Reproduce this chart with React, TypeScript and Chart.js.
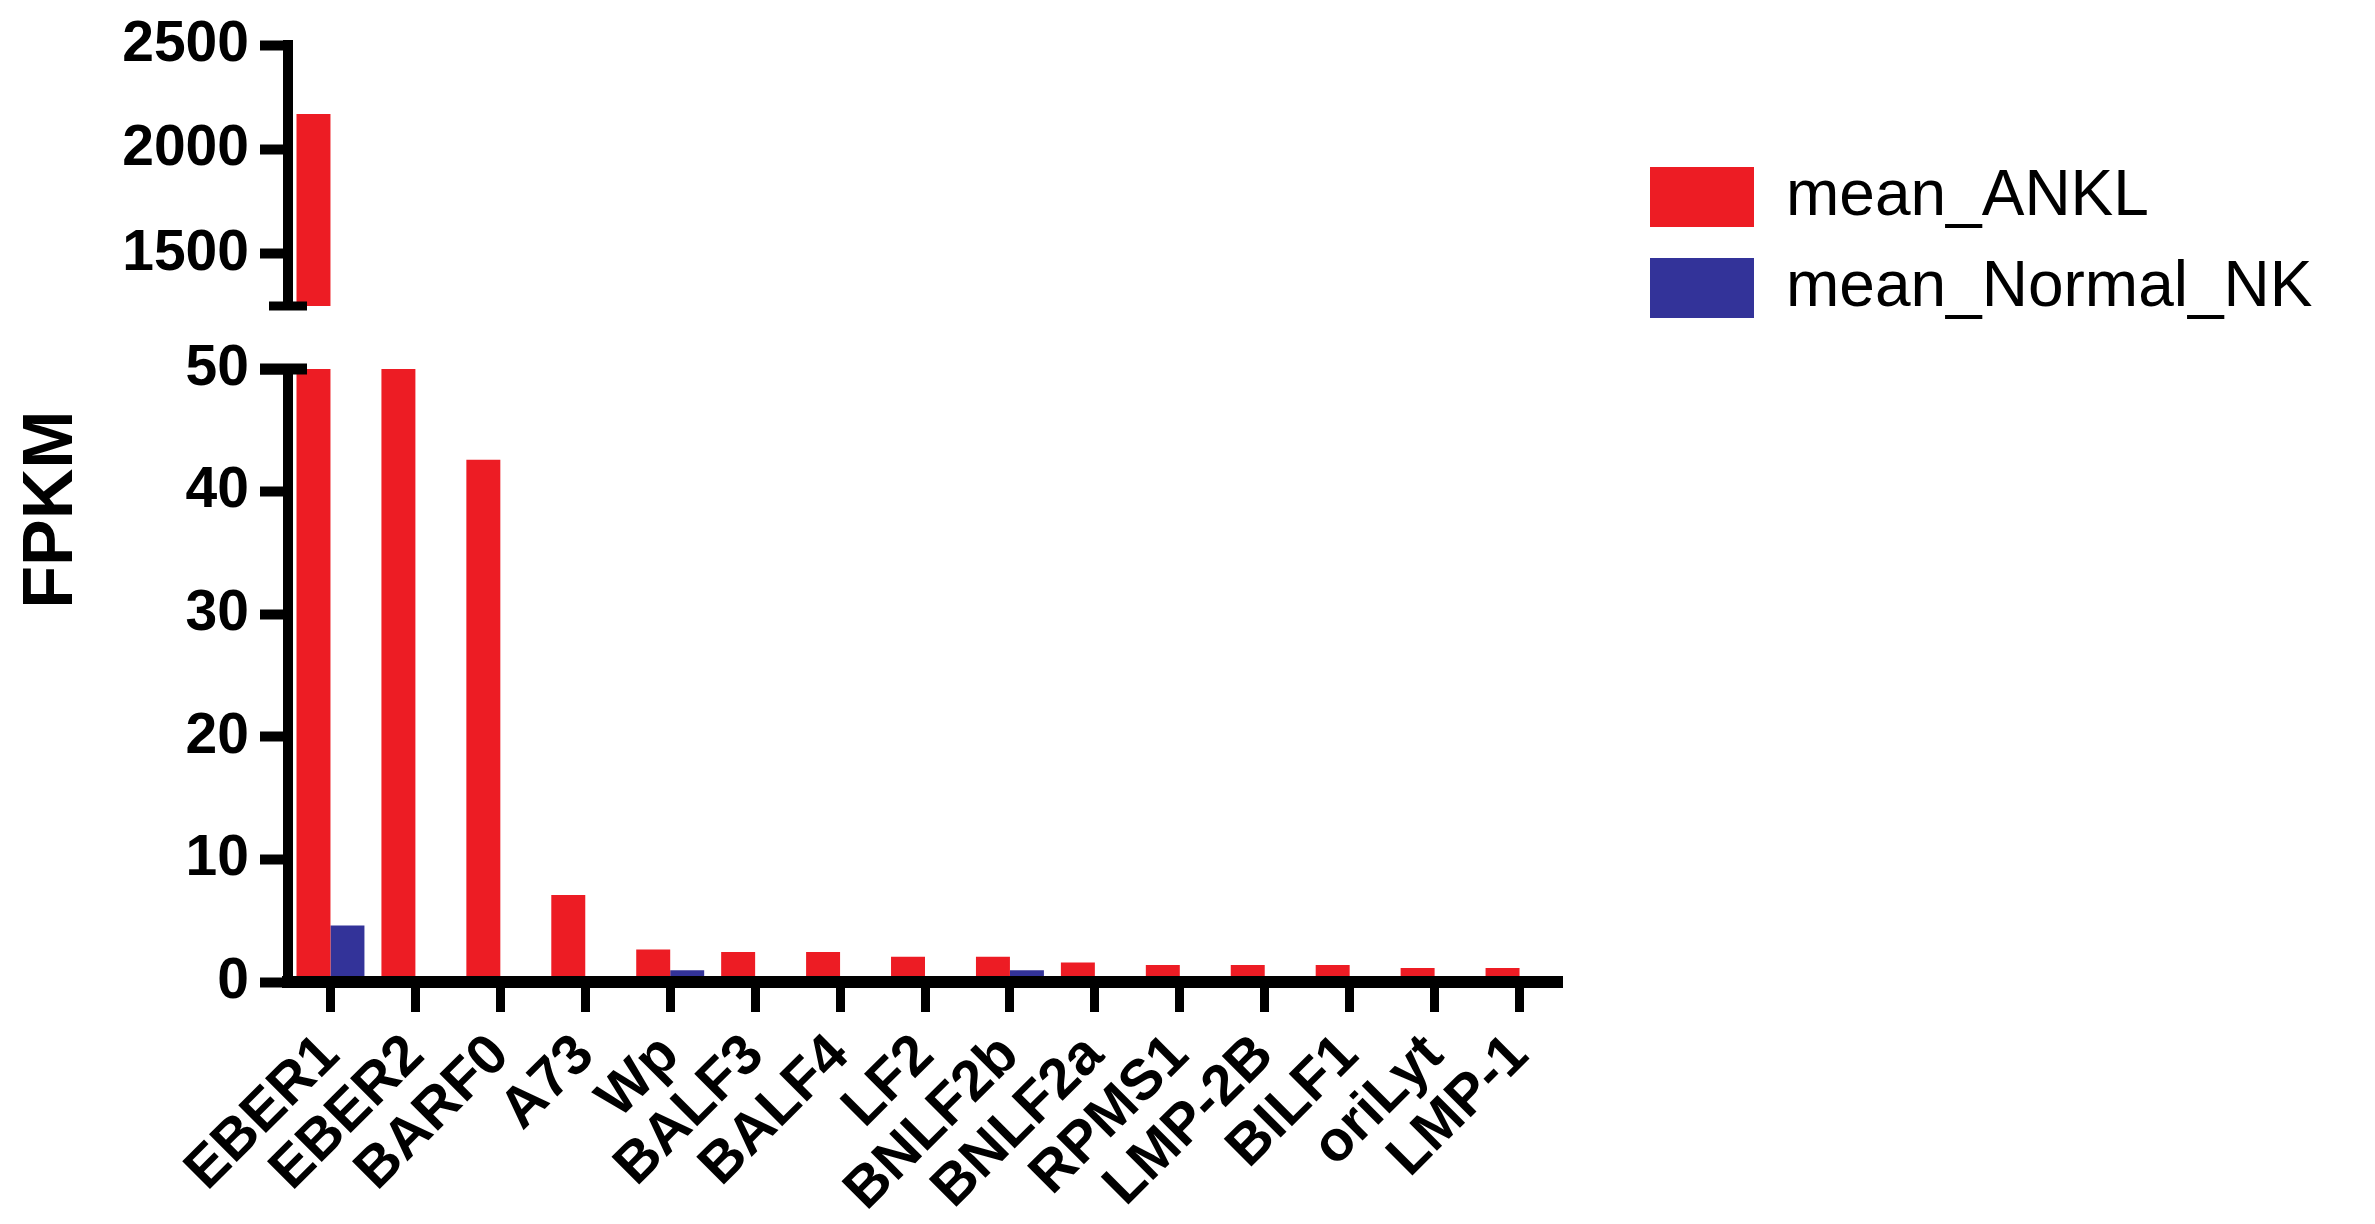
import React, { useEffect, useRef } from 'react';
import { Chart, registerables } from 'chart.js';

Chart.register(...registerables);

// ---------------- data ----------------
const categories = ['EBER1', 'EBER2', 'BARF0', 'A73', 'Wp', 'BALF3', 'BALF4', 'LF2', 'BNLF2b', 'BNLF2a', 'RPMS1', 'LMP-2B', 'BILF1', 'oriLyt', 'LMP-1'];
const meanANKL = [2170, 600, 42.6, 7.1, 2.65, 2.45, 2.45, 2.05, 2.05, 1.6, 1.38, 1.38, 1.38, 1.15, 1.15];
const meanNormalNK = [4.6, 0, 0, 0, 0.95, 0, 0, 0, 0.95, 0, 0, 0, 0, 0, 0];
const seriesNames = ['mean_ANKL', 'mean_Normal_NK'];
const seriesColors = ['#ED1C24', '#333399'];
const upperRange = [1250, 2500];
const upperTicks = [1500, 2000, 2500];
const lowerRange = [0, 50];
const lowerTicks = [0, 10, 20, 30, 40, 50];
const yTitle = 'FPKM';

// ---------------- layout ----------------
const W = 2375;
const H = 1224;
const FONT = '"Liberation Sans", Arial, Helvetica, sans-serif';
const AXIS_X = 288;
const PLOT_RIGHT = 1562;
const UPPER_TOP = 41;
const UPPER_BOTTOM = 306;
const LOWER_TOP = 369;
const LOWER_BOTTOM = 982;
const LEGEND_LEFT = 1623;
const LEGEND_TOP = 138;

const makeDatasets = () =>
  [meanANKL, meanNormalNK].map((d, i) => ({
    label: seriesNames[i],
    data: d,
    backgroundColor: seriesColors[i],
    borderWidth: 0,
    categoryPercentage: 0.8,
    barPercentage: 1.0,
    clip: 0,
  }));

const yAxis = (range: number[], ticks: number[]) => ({
  type: 'linear',
  position: 'left',
  min: range[0],
  max: range[1],
  afterBuildTicks: (s: any) => {
    s.ticks = ticks.map((v) => ({ value: v }));
  },
  afterFit: (s: any) => {
    s.width = AXIS_X;
  },
  grid: { drawOnChartArea: false, drawTicks: true, tickLength: 28, tickWidth: 10, tickColor: '#000' },
  border: { display: true, width: 10, color: '#000', z: 1 },
  ticks: {
    color: '#000',
    padding: 11,
    font: { family: FONT, size: 57, weight: 'bold' },
    callback: (v: any) => String(v),
  },
});

const upperBreak = {
  id: 'upperBreak',
  afterDraw(chart: any) {
    const { ctx, chartArea } = chart;
    ctx.save();
    ctx.strokeStyle = '#000';
    ctx.lineWidth = 9;
    ctx.beginPath();
    ctx.moveTo(chartArea.left - 19, chartArea.bottom);
    ctx.lineTo(chartArea.left + 19, chartArea.bottom);
    ctx.stroke();
    ctx.restore();
  },
};

const legendPlacer = {
  id: 'legendPlacer',
  afterLayout(chart: any) {
    const lg = chart.legend;
    if (!lg) return;
    const w = lg.width;
    const h = lg.height;
    lg.left = LEGEND_LEFT;
    lg.top = LEGEND_TOP;
    lg.right = LEGEND_LEFT + w;
    lg.bottom = LEGEND_TOP + h;
  },
};

export default function App() {
  const topRef = useRef<HTMLCanvasElement>(null);
  const bottomRef = useRef<HTMLCanvasElement>(null);

  useEffect(() => {
    const topChart = new Chart(topRef.current as HTMLCanvasElement, {
      type: 'bar',
      data: { labels: categories, datasets: makeDatasets() as any },
      options: {
        animation: false,
        responsive: false,
        devicePixelRatio: 1,
        layout: { padding: { left: 0, right: W - PLOT_RIGHT, top: UPPER_TOP, bottom: H - UPPER_BOTTOM } },
        scales: {
          x: { type: 'category', display: false, offset: true, grid: { offset: false } },
          y: yAxis(upperRange, upperTicks) as any,
        },
        plugins: {
          legend: {
            display: true,
            position: 'chartArea' as any,
            align: 'start',
            labels: {
              boxWidth: 104,
              boxHeight: 60,
              padding: 27,
              color: '#000',
              font: { family: FONT, size: 64, weight: 'normal' },
            },
          },
          tooltip: { enabled: false },
        },
      },
      plugins: [upperBreak, legendPlacer],
    });

    const lowerDecor = {
      id: 'lowerDecor',
      afterDraw(chart: any) {
        const { ctx, chartArea } = chart;
        ctx.save();
        ctx.strokeStyle = '#000';
        ctx.lineWidth = 11;
        ctx.beginPath();
        ctx.moveTo(chartArea.left - 28, chartArea.top);
        ctx.lineTo(chartArea.left + 19, chartArea.top);
        ctx.stroke();
        const yc = (topChart.chartArea.top + chartArea.bottom) / 2 - 4;
        ctx.translate(53, yc);
        ctx.rotate(-Math.PI / 2);
        ctx.fillStyle = '#000';
        ctx.font = `bold 70px ${FONT}`;
        ctx.textAlign = 'center';
        ctx.textBaseline = 'middle';
        ctx.fillText(yTitle, 0, 0);
        ctx.restore();
      },
    };

    const bottomChart = new Chart(bottomRef.current as HTMLCanvasElement, {
      type: 'bar',
      data: { labels: categories, datasets: makeDatasets() as any },
      options: {
        animation: false,
        responsive: false,
        devicePixelRatio: 1,
        layout: { padding: { left: 0, right: W - PLOT_RIGHT, top: LOWER_TOP, bottom: 0 } },
        scales: {
          x: {
            type: 'category',
            offset: true,
            afterFit: (s: any) => {
              s.height = H - LOWER_BOTTOM;
            },
            grid: { offset: false, drawOnChartArea: false, drawTicks: true, tickLength: 30, tickWidth: 9, tickColor: '#000' },
            border: { display: true, width: 12, color: '#000', z: 1 },
            ticks: {
              autoSkip: false,
              minRotation: 45,
              maxRotation: 45,
              padding: 10,
              color: '#000',
              font: { family: FONT, size: 57, weight: 'bold' },
            },
          },
          y: yAxis(lowerRange, lowerTicks) as any,
        },
        plugins: {
          legend: { display: false },
          tooltip: { enabled: false },
        },
      },
      plugins: [lowerDecor],
    });

    return () => {
      bottomChart.destroy();
      topChart.destroy();
    };
  }, []);

  return (
    <div style={{ position: 'absolute', left: 0, top: 0, width: W, height: H, background: '#fff' }}>
      <canvas ref={bottomRef} width={W} height={H} style={{ position: 'absolute', left: 0, top: 0, width: W, height: H }} />
      <canvas ref={topRef} width={W} height={H} style={{ position: 'absolute', left: 0, top: 0, width: W, height: H }} />
    </div>
  );
}
